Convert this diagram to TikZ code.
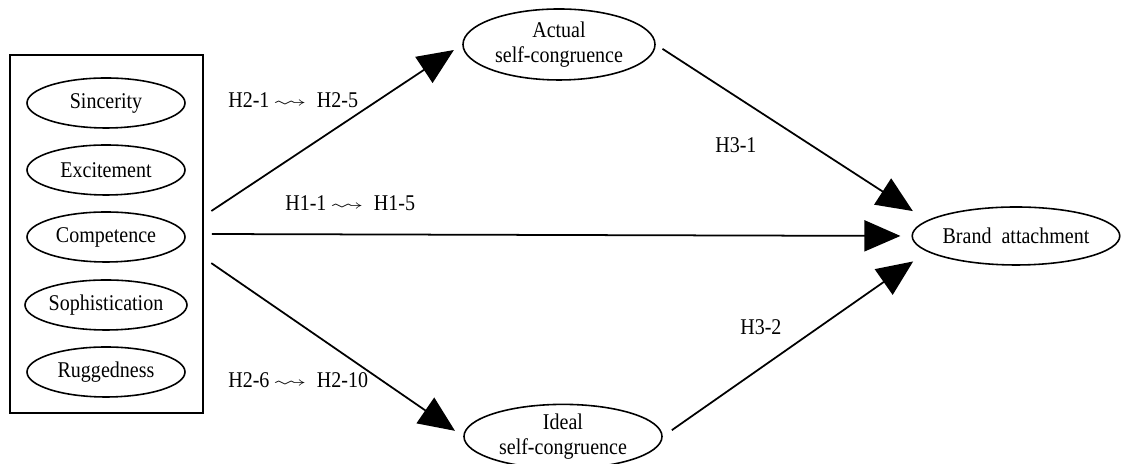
\documentclass[tikz,border=0pt]{standalone}
\usepackage{fontspec}
\setmainfont{Liberation Serif}[FakeStretch=0.89]
\usepackage{amssymb}
\usetikzlibrary{arrows.meta,shapes.geometric}
\newcommand{\hyparrow}{\,\scalebox{1.5}[0.8]{$\rightsquigarrow$}\ \ }

\begin{document}
\begin{tikzpicture}[
  every node/.style={font=\fontsize{12.8pt}{14.2pt}\selectfont},
  trait/.style={ellipse, draw, line width=0.9pt, minimum width=3.16cm,
                minimum height=1cm, inner sep=0pt},
  construct/.style={ellipse, draw, line width=0.9pt, align=center, inner sep=0pt},
  arr/.style={-{Triangle[length=0.72cm,width=0.62cm]}, line width=1pt},
  hyp/.style={inner sep=0pt, anchor=west}
]
  \useasboundingbox (0,0) rectangle (22.42,9.28);

  % Brand personality
  \node[draw, line width=1pt, minimum width=3.86cm, minimum height=7.16cm] (traits) at (2.13,4.60) {};
  \node[trait] (sinc) at (2.12,7.22) {Sincerity};
  \node[trait] (exci) at (2.12,5.88) {Excitement};
  \node[trait] (comp) at (2.12,4.54) {Competence};
  \node[trait] (soph) at (2.12,3.18) {Sophistication};
  \node[trait] (rugg) at (2.12,1.84) {Ruggedness};

  \node[construct, minimum width=3.84cm, minimum height=1.42cm] (actual) at (11.18,8.39) {Actual\\self-congruence};
  \node[construct, minimum width=3.96cm, minimum height=1.04cm] (ideal) at (11.26,0.55) {Ideal\\self-congruence};
  \node[construct, minimum width=4.14cm, minimum height=1.16cm] (brand) at (20.32,4.56) {Brand\ \ attachment};

  \draw[arr, shorten <=0.18cm, shorten >=0.2cm] ([yshift=0.36cm]traits.east) -- (actual.west);
  \draw[arr, shorten <=0.16cm, shorten >=0.22cm] (traits.east) -- (brand.west);
  \draw[arr, shorten <=0.18cm, shorten >=0.2cm] ([yshift=-0.48cm]traits.east) -- (ideal.west);
  \draw[arr, shorten <=0.16cm, shorten >=0.34cm] (actual.east) -- (brand.170);
  \draw[arr, shorten <=0.22cm, shorten >=0.34cm] (ideal.east) -- (brand.190);

  % Hypotheses
  \node[hyp] (h2a) at (4.56,7.28) {H2-1\hyparrow H2-5};
  \node[hyp] (h1) at (5.70,5.22) {H1-1\hyparrow H1-5};
  \node[hyp] (h2b) at (4.56,1.68) {H2-6\hyparrow H2-10};
  \node[hyp] (h31) at (14.30,6.38) {H3-1};
  \node[hyp] (h32) at (14.80,2.74) {H3-2};
\end{tikzpicture}
\end{document}
